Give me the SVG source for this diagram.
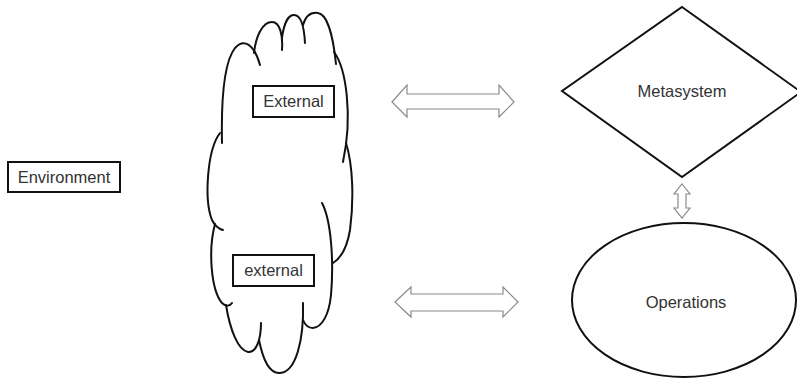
<svg xmlns="http://www.w3.org/2000/svg" width="797" height="380" viewBox="0 0 797 380">
  <style>
    .label { font-family: "Liberation Sans", Arial, sans-serif; font-size: 16.5px; fill: #333; text-anchor: middle; }
    .box { fill: #fff; stroke: #111; stroke-width: 2; }
    .shape { fill: #fff; stroke: #111; stroke-width: 2; }
    .lobe { fill: none; stroke: #111; stroke-width: 2; stroke-linecap: round; }
    .dbl { fill: #fff; stroke: #8a8a8a; stroke-width: 1.2; stroke-linejoin: miter; }
  </style>
  <rect width="797" height="380" fill="#fff"/>

  <!-- Environment label -->
  <g id="environment">
    <rect class="box" x="8" y="162" width="112" height="30"/>
    <text class="label" x="64" y="183">Environment</text>
  </g>

  <!-- Cloud of the external environment, drawn lobe by lobe -->
  <g id="cloud">
    <path class="lobe" d="M222,143 C221,95 224,62 235,48 C244,38 254,44 260,65"/>
    <path class="lobe" d="M254,53 C256,35 263,22 272,22 C280,22 283,35 282,50"/>
    <path class="lobe" d="M282,38 C284,22 289,15 294,15 C300,15 304,24 305,43"/>
    <path class="lobe" d="M303,25 C306,15 312,12 318,13 C327,14 333,35 336,64"/>
    <path class="lobe" d="M334,52 C346,68 353,115 343,162"/>
    <path class="lobe" d="M346,143 C353,165 354,200 350,230 C347,248 341,258 333,263"/>
    <path class="lobe" d="M322,203 C331,220 334,260 331,295 C329,315 322,327 313,328 C308,328 305,325 303,320"/>
    <path class="lobe" d="M303,303 C304,340 296,372 280,373 C268,374 262,355 259,340"/>
    <path class="lobe" d="M226,305 C230,330 238,350 248,352 C256,353 261,340 261,323"/>
    <path class="lobe" d="M215,224 C208,250 211,290 222,303 C226,307 230,306 232,303"/>
    <path class="lobe" d="M220,133 C207,150 204,200 212,220 C215,226 219,229 223,230"/>
  </g>
  <g id="external-upper">
    <rect class="box" x="253" y="86" width="81" height="31"/>
    <text class="label" x="293.5" y="107">External</text>
  </g>
  <g id="external-lower">
    <rect class="box" x="233" y="255" width="81" height="31"/>
    <text class="label" x="273.5" y="276">external</text>
  </g>

  <!-- Metasystem -->
  <g id="metasystem">
    <polygon class="shape" points="682,7 801,92 682,177 562,91"/>
    <text class="label" x="682" y="97">Metasystem</text>
  </g>

  <!-- Operations -->
  <g id="operations">
    <ellipse class="shape" cx="684" cy="300" rx="112" ry="77"/>
    <text class="label" x="686" y="308">Operations</text>
  </g>

  <!-- Two-way block arrows -->
  <g id="connectors">
    <polygon class="dbl" points="392,102 407,85 407,94 499,94 499,85 514,102 499,117 499,109 407,109 407,117"/>
    <polygon class="dbl" points="395,302 411,287 411,294 503,294 503,287 518,302 503,317 503,311 411,311 411,317"/>
    <polygon class="dbl" points="682,184 690,194 686,194 686,208 690,208 682,218 674,208 678,208 678,194 674,194"/>
  </g>
</svg>
